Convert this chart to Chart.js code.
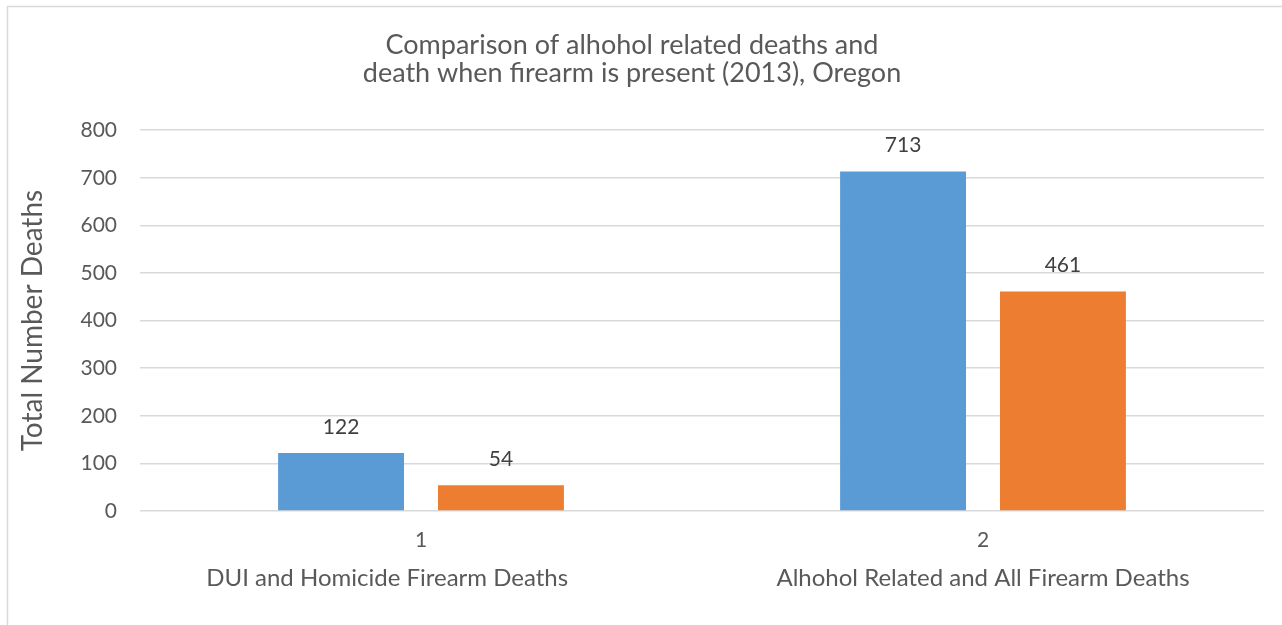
<!DOCTYPE html>
<html>
<head>
<meta charset="utf-8">
<script src="https://cdn.jsdelivr.net/npm/chart.js@4"></script>
<style>
html,body{margin:0;padding:0;background:#fff;overflow:hidden}
#wrap{width:1282px;height:625px;position:relative}
</style>
</head>
<body>
<div id="wrap"><canvas id="c" width="1282" height="625"></canvas></div>
<script>
// ---- data ----
const categoryNumbers = ["1", "2"];
const categoryNames = ["DUI and Homicide Firearm Deaths", "Alhohol Related and All Firearm Deaths"];
const seriesFirst = [122, 713];
const seriesSecond = [54, 461];
const yMin = 0;
const yMax = 800;
const yStep = 100;
const titleLines = ["Comparison of alhohol related deaths and", "death when firearm is present (2013), Oregon"];
const yAxisTitle = "Total Number Deaths";

const FONT = "Lato, 'Open Sans', sans-serif";
const TEXT = "#595959";
// trailing blank padding of the outer category labels (as in the source sheet)
const namePadding = [11, 0];

const frame = {
  id: 'frame',
  beforeDraw(chart) {
    const ctx = chart.ctx;
    ctx.save();
    ctx.fillStyle = '#ffffff';
    ctx.fillRect(0, 0, chart.width, chart.height);
    ctx.strokeStyle = '#d9d9d9';
    ctx.lineWidth = 1.5;
    ctx.strokeRect(7.5, 6.5, chart.width + 50, chart.height + 50);
    ctx.restore();
  }
};

const valueLabels = {
  id: 'valueLabels',
  afterDatasetsDraw(chart) {
    const ctx = chart.ctx;
    ctx.save();
    ctx.fillStyle = '#404040';
    ctx.font = "21px " + FONT;
    ctx.textAlign = 'center';
    ctx.textBaseline = 'middle';
    chart.data.datasets.forEach((ds, di) => {
      const meta = chart.getDatasetMeta(di);
      meta.data.forEach((bar, i) => {
        ctx.fillText(String(ds.data[i]), bar.x, bar.y - 26);
      });
    });
    ctx.restore();
  }
};

new Chart(document.getElementById('c'), {
  type: 'bar',
  data: {
    labels: categoryNumbers,
    datasets: [
      { label: 'Series1', data: seriesFirst, backgroundColor: '#5B9BD5', borderWidth: 0,
        categoryPercentage: 0.569, barPercentage: 0.7875 },
      { label: 'Series2', data: seriesSecond, backgroundColor: '#ED7D31', borderWidth: 0,
        categoryPercentage: 0.569, barPercentage: 0.7875 }
    ]
  },
  options: {
    responsive: false,
    animation: false,
    devicePixelRatio: 1,
    layout: { padding: { left: 0, right: 18, top: 0, bottom: 0 } },
    plugins: {
      legend: { display: false },
      tooltip: { enabled: false },
      title: {
        display: true,
        text: titleLines,
        color: TEXT,
        font: { family: FONT, size: 27, weight: 'normal', lineHeight: 1.04 },
        padding: { top: 31, bottom: 43 }
      }
    },
    scales: {
      x: {
        position: 'bottom',
        weight: 0,
        grid: { display: false, drawTicks: false },
        border: { display: false },
        ticks: {
          color: TEXT,
          font: { family: FONT, size: 21, lineHeight: 1.2 },
          padding: 16.4,
          maxRotation: 0,
          autoSkip: false
        },
        afterFit(scale) { scale.height = 48; }
      },
      x2: {
        type: 'category',
        labels: categoryNames,
        position: 'bottom',
        weight: 1,
        offset: true,
        grid: { display: false, drawTicks: false, offset: true },
        border: { display: false },
        ticks: {
          color: TEXT,
          font: { family: FONT, size: 24, lineHeight: 1.2 },
          padding: 4.6,
          maxRotation: 0,
          autoSkip: false,
          callback(value, index) {
            return categoryNames[index] + ' '.repeat(namePadding[index] || 0);
          }
        },
        afterFit(scale) { scale.height = 66; }
      },
      y: {
        min: yMin,
        max: yMax,
        grid: { color: '#d9d9d9', lineWidth: 1.5, drawTicks: false },
        border: { display: false },
        ticks: {
          stepSize: yStep,
          color: TEXT,
          font: { family: FONT, size: 21 },
          padding: 23
        },
        title: {
          display: true,
          text: yAxisTitle,
          color: TEXT,
          font: { family: FONT, size: 28, weight: 'normal', lineHeight: 1.2 },
          padding: { top: 16, bottom: 0 }
        },
        afterFit(scale) { scale.width = 140; }
      }
    }
  },
  plugins: [frame, valueLabels]
});
</script>
</body>
</html>
